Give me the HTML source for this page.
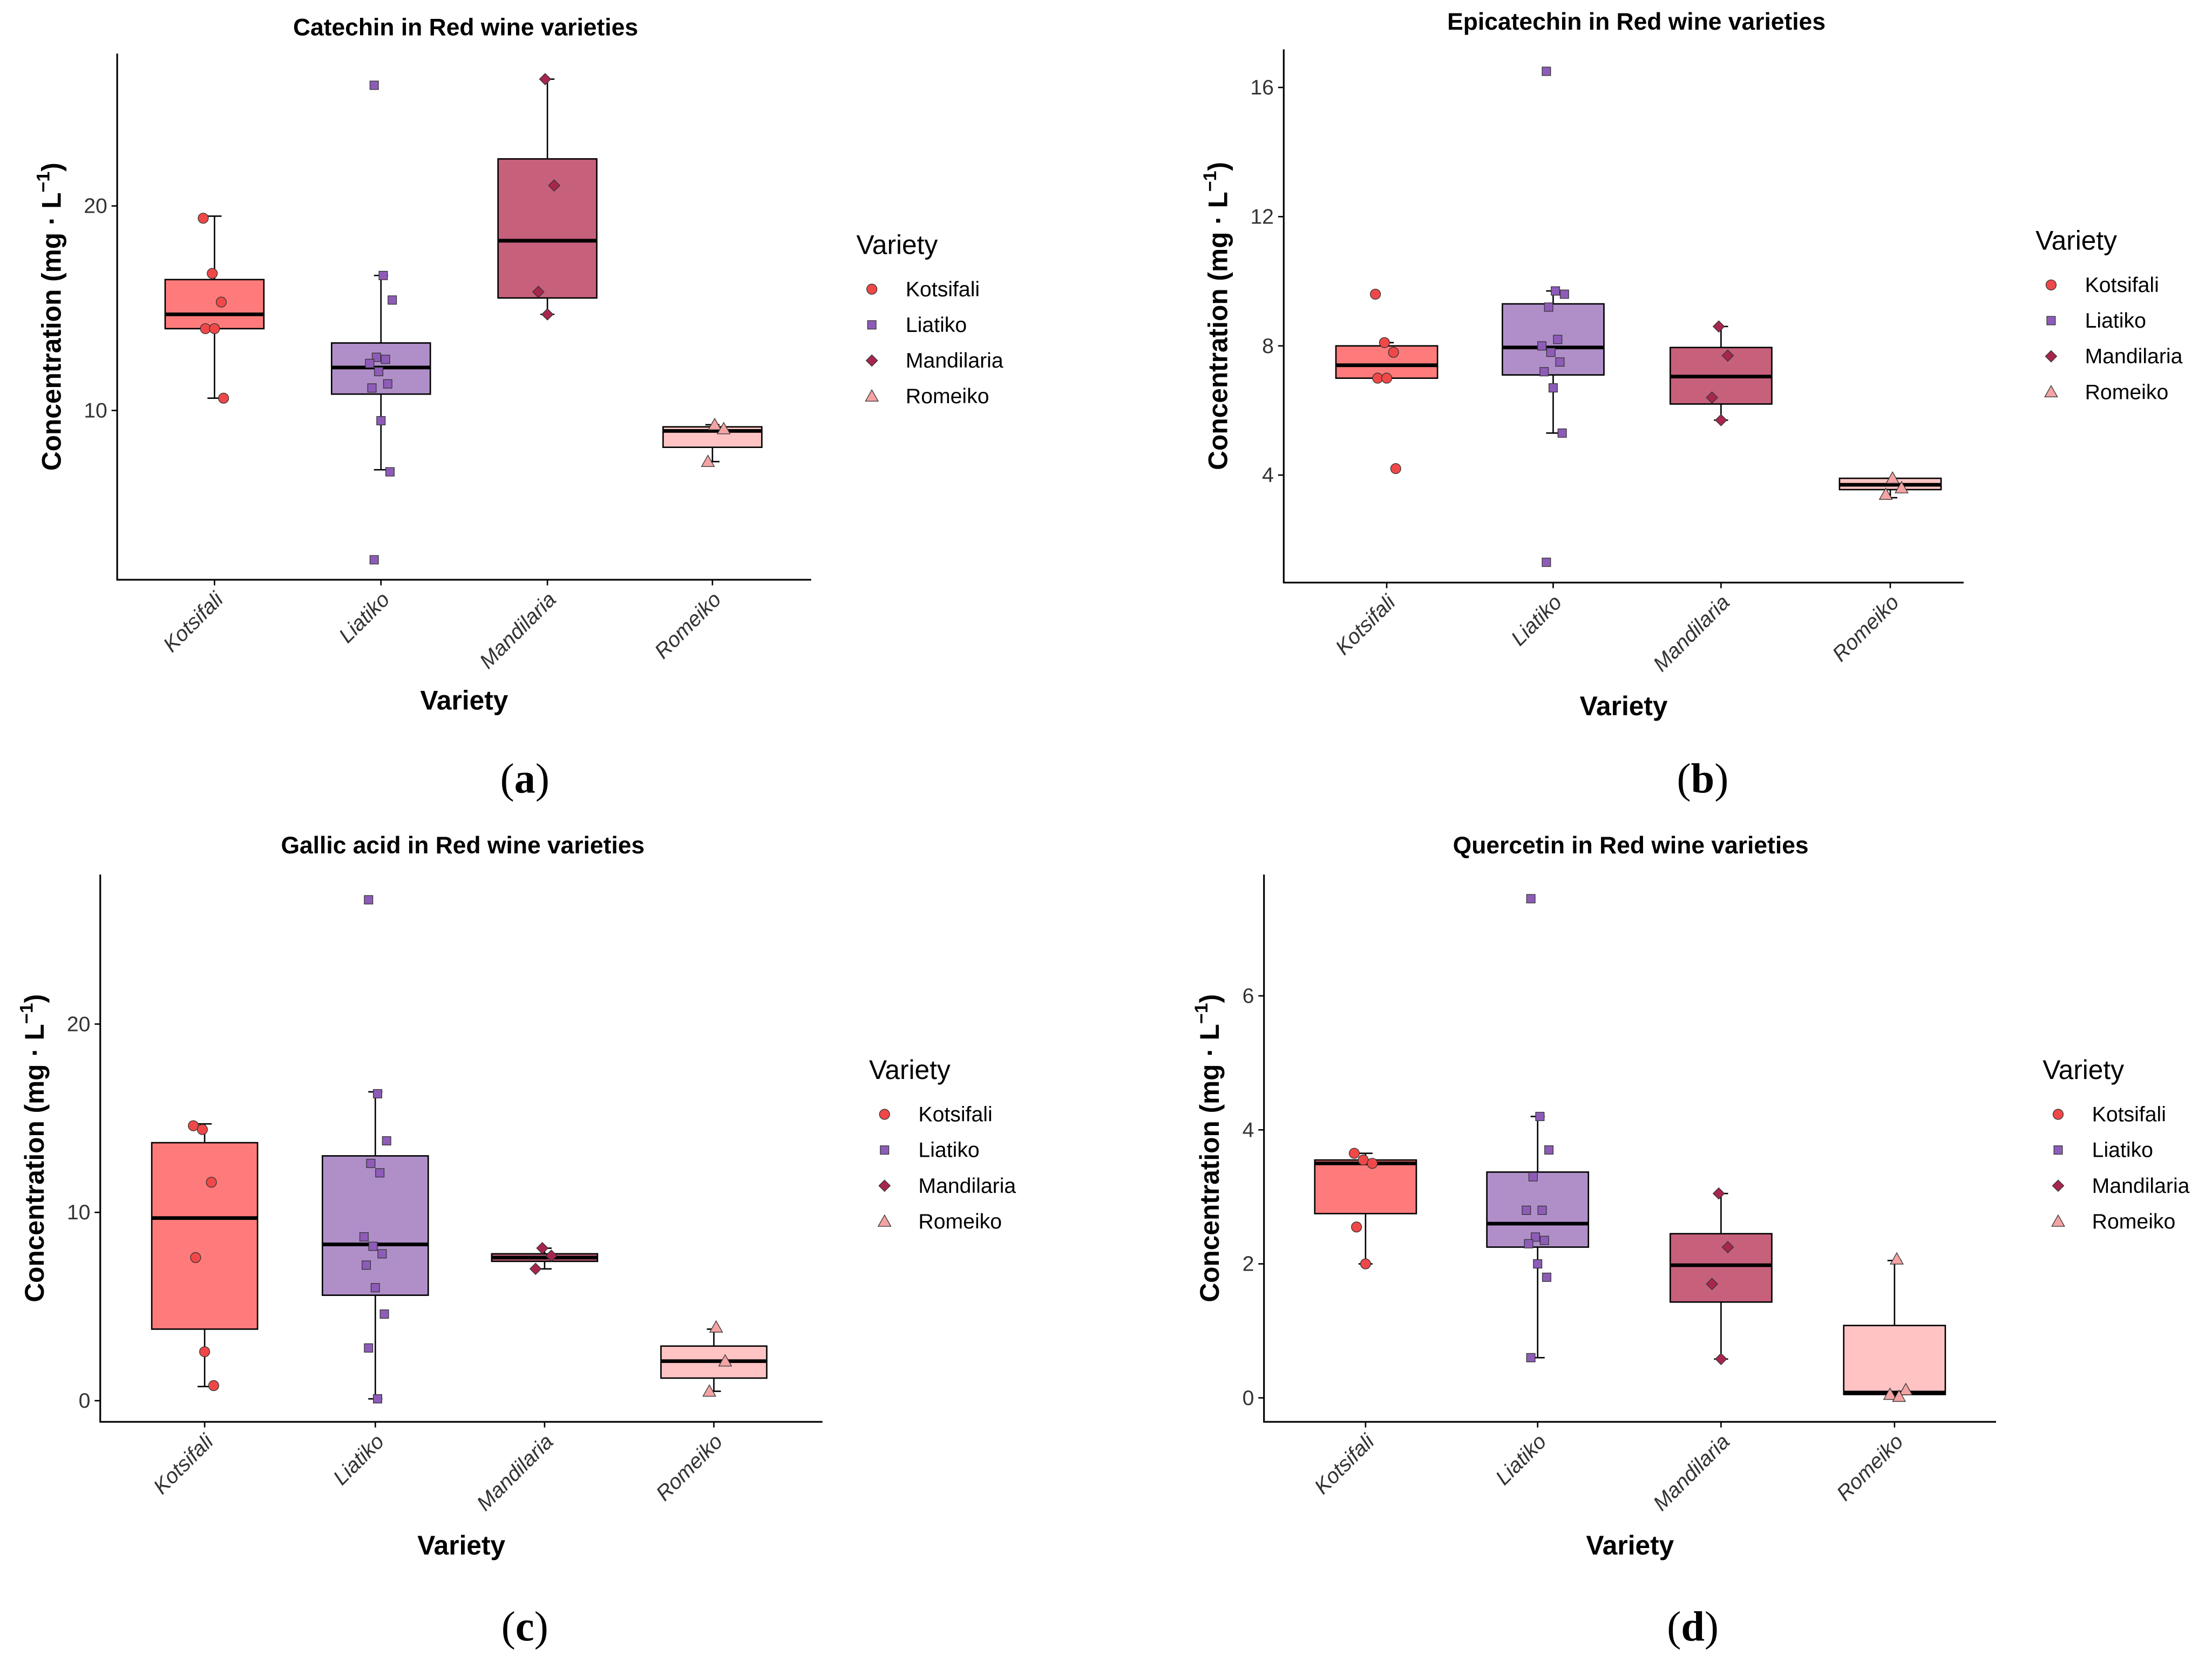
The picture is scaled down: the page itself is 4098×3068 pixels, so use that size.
<!DOCTYPE html>
<html><head><meta charset="utf-8">
<style>
html,body{margin:0;padding:0;background:#fff;}
svg{display:block;font-family:"Liberation Sans",Arial,sans-serif;}
</style></head>
<body>
<svg id="chart" width="4098" height="3068" viewBox="0 0 1568 1174" xmlns="http://www.w3.org/2000/svg"></svg>
<script>
const categories = ["Kotsifali","Liatiko","Mandilaria","Romeiko"];
// Panel (a) Catechin
const catechinPoints = [[19.4,16.7,15.3,14.0,14.0,10.6],[25.9,16.6,15.4,12.6,12.5,12.3,11.9,11.3,11.1,9.5,7.0,2.7],[26.2,21.0,15.8,14.7],[9.3,9.1,7.5]];
const catechinBoxes = [[10.6,14.0,14.7,16.4,19.5],[7.1,10.8,12.1,13.3,16.6],[14.7,15.5,18.3,22.3,26.2],[7.5,8.2,9.0,9.2,9.3]];
const catechinTicks = [10,20];
// Panel (b) Epicatechin
const epiPoints = [[9.6,8.1,7.8,7.0,7.0,4.2],[16.5,9.7,9.6,9.2,8.2,8.0,7.8,7.5,7.2,6.7,5.3,1.3],[8.6,7.7,6.4,5.7],[3.9,3.6,3.4]];
const epiBoxes = [[7.0,7.0,7.4,8.0,8.1],[5.3,7.1,7.95,9.3,9.7],[5.7,6.2,7.05,7.95,8.6],[3.3,3.55,3.7,3.9,3.9]];
const epiTicks = [4,8,12,16];
// Panel (c) Gallic acid
const gallicPoints = [[14.6,14.4,11.6,7.6,2.6,0.8],[26.6,16.3,13.8,12.6,12.1,8.7,8.2,7.8,7.2,6.0,4.6,2.8,0.1],[8.1,7.7,7.0],[3.9,2.1,0.5]];
const gallicBoxes = [[0.75,3.8,9.7,13.7,14.7],[0.1,5.6,8.3,13.0,16.4],[7.0,7.4,7.6,7.8,8.1],[0.5,1.2,2.1,2.9,3.8]];
const gallicTicks = [0,10,20];
// Panel (d) Quercetin
const quercPoints = [[3.65,3.55,3.5,2.55,2.0],[7.45,4.2,3.7,3.3,2.8,2.8,2.4,2.35,2.3,2.0,1.8,0.6],[3.05,2.25,1.7,0.58],[2.07,0.12,0.05,0.02]];
const quercBoxes = [[2.0,2.75,3.5,3.55,3.65],[0.6,2.25,2.6,3.37,4.2],[0.58,1.43,1.98,2.45,3.05],[0.03,0.05,0.08,1.08,2.05]];
const quercTicks = [0,2,4,6];

const fills = ["#ff7b7b","#b08fc9","#c7607b","#ffc3c3"];
const ptFill = ["#f04848","#8e5cb8","#a8264d","#f3a3a3"];
const shapes = ["circle","square","diamond","triangle"];
const NS="http://www.w3.org/2000/svg";
const svg=document.getElementById("chart");
function mk(tag,attrs,parent){const e=document.createElementNS(NS,tag);for(const k in attrs)e.setAttribute(k,attrs[k]);(parent||svg).appendChild(e);return e;}

function marker(g,shape,x,y,fill){
  let e;
  if(shape==="circle") e=mk("circle",{cx:x,cy:y,r:3.6,fill:fill,stroke:"#333","stroke-width":0.5},g);
  else if(shape==="square") e=mk("rect",{x:x-3,y:y-3,width:6,height:6,fill:fill,stroke:"#333","stroke-width":0.5},g);
  else if(shape==="diamond") e=mk("polygon",{points:`${x},${y-4} ${x+4},${y} ${x},${y+4} ${x-4},${y}`,fill:fill,stroke:"#333","stroke-width":0.5},g);
  else e=mk("polygon",{points:`${x},${y-4.5} ${x+4.5},${y+3.5} ${x-4.5},${y+3.5}`,fill:fill,stroke:"#333","stroke-width":0.5},g);
  return e;
}

function panel(p){
  const g=mk("g",{});
  
  
  const y=v=>p.y0-(v-p.v0)*p.k;
  const x=i=>p.cx[i];
  const t=mk("text",{x:p.titleX,y:p.titleY,"text-anchor":"middle","font-size":17,"font-weight":"bold",fill:"#000"},g);
  t.textContent=p.title;
  
  
  const ax=mk("path",{d:`M${p.ax},${p.top} V${p.bot} H${p.right}`,fill:"none",stroke:"#000","stroke-width":1.2},g);
  
  
  p.ticks.forEach(v=>{
    mk("line",{x1:p.ax-4,x2:p.ax,y1:y(v),y2:y(v),stroke:"#000","stroke-width":1},g);
    const tl=mk("text",{x:p.ax-7,y:y(v)+5,"text-anchor":"end","font-size":15,fill:"#333"},g);
    tl.textContent=v;
    
    
  });
  categories.forEach((c,i)=>{
    mk("line",{x1:x(i),x2:x(i),y1:p.bot,y2:p.bot+4,stroke:"#000","stroke-width":1},g);
    const tl=mk("text",{x:0,y:0,"text-anchor":"end","font-size":15,"font-style":"italic",fill:"#333",transform:`translate(${x(i)+7},${p.bot+15}) rotate(-45)`},g);
    tl.textContent=c;
    
    
  });
  p.boxes.forEach((b,i)=>{
    const bg=mk("g",{},g);
    
    
    const hw=p.bw/2;
    mk("line",{x1:x(i),x2:x(i),y1:y(b[0]),y2:y(b[4]),stroke:"#000","stroke-width":1},bg);
    mk("line",{x1:x(i)-5,x2:x(i)+5,y1:y(b[0]),y2:y(b[0]),stroke:"#000","stroke-width":1},bg);
    mk("line",{x1:x(i)-5,x2:x(i)+5,y1:y(b[4]),y2:y(b[4]),stroke:"#000","stroke-width":1},bg);
    mk("rect",{x:x(i)-hw,y:y(b[3]),width:p.bw,height:Math.max(1,y(b[1])-y(b[3])),fill:fills[i],stroke:"#000","stroke-width":1},bg);
    mk("line",{x1:x(i)-hw,x2:x(i)+hw,y1:y(b[2]),y2:y(b[2]),stroke:"#000","stroke-width":2.6},bg);
  });
  p.points.forEach((arr,i)=>{
    arr.forEach((v,j)=>{
      const jit=(((j*37+i*13)%11)-5)*1.6;
      const m=marker(g,shapes[i],x(i)+jit,y(v),ptFill[i]);
      
      
    });
  });
  const xt=mk("text",{x:(p.ax+p.right)/2,y:p.xtY,"text-anchor":"middle","font-size":19,"font-weight":"bold",fill:"#000"},g);
  xt.textContent="Variety";
  
  
  const yt=mk("text",{x:0,y:0,"text-anchor":"middle","font-size":19,"font-weight":"bold",fill:"#000",transform:`translate(${p.ytX},${(p.top+p.bot)/2}) rotate(-90)`},g);
  yt.innerHTML='Concentration (mg · L<tspan dy="-8" font-size="13">−1</tspan><tspan dy="8">)</tspan>';
  
  
  const lg=mk("g",{},g);
  
  
  const lt=mk("text",{x:p.lx,y:p.ly,"font-size":19,fill:"#000"},lg);
  lt.textContent="Variety";
  categories.forEach((c,i)=>{
    const ey=p.ly+30+i*25.3;
    const e=mk("g",{},lg);
    
    
    marker(e,shapes[i],p.lx+11,ey-5,ptFill[i]);
    const tx=mk("text",{x:p.lx+35,y:ey,"font-size":15,fill:"#000"},e);
    tx.textContent=c;
  });
  const cap=mk("text",{x:p.capX,y:p.capY,"text-anchor":"middle","font-size":30,"font-family":"Liberation Serif, serif",fill:"#000"},g);
  cap.innerHTML='(<tspan font-weight="bold">'+p.cap+'</tspan>)';
  
  
}

panel({name:"panel-catechin",title:"Catechin in Red wine varieties",titleX:330,titleY:25,ax:83,top:38,bot:411,right:575,
  v0:20,y0:146,k:14.5,cx:[152,270,388,505],bw:70,ticks:catechinTicks,boxes:catechinBoxes,points:catechinPoints,
  xtY:503,ytX:43,lx:607,ly:180,capX:372,capY:562,cap:"a"});
panel({name:"panel-epicatechin",title:"Epicatechin in Red wine varieties",titleX:1160,titleY:21,ax:910,top:35,bot:413,right:1392,
  v0:16,y0:62,k:22.9,cx:[983,1101,1220,1340],bw:72,ticks:epiTicks,boxes:epiBoxes,points:epiPoints,
  xtY:507,ytX:870,lx:1443,ly:177,capX:1207,capY:562,cap:"b"});
panel({name:"panel-gallic-acid",title:"Gallic acid in Red wine varieties",titleX:328,titleY:605,ax:71,top:620,bot:1008,right:583,
  v0:0,y0:993,k:13.35,cx:[145,266,386,506],bw:75,ticks:gallicTicks,boxes:gallicBoxes,points:gallicPoints,
  xtY:1102,ytX:31,lx:616,ly:765,capX:372,capY:1163,cap:"c"});
panel({name:"panel-quercetin",title:"Quercetin in Red wine varieties",titleX:1156,titleY:605,ax:896,top:620,bot:1008,right:1415,
  v0:0,y0:991,k:47.5,cx:[968,1090,1220,1343],bw:72,ticks:quercTicks,boxes:quercBoxes,points:quercPoints,
  xtY:1102,ytX:864,lx:1448,ly:765,capX:1200,capY:1163,cap:"d"});
</script>
</body></html>
